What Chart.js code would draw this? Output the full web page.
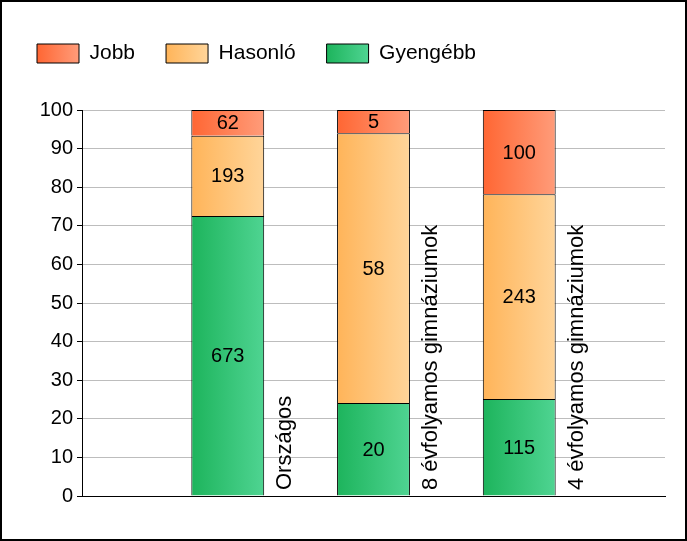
<!DOCTYPE html>
<html>
<head>
<meta charset="utf-8">
<script src="https://cdn.jsdelivr.net/npm/chart.js@4.4.0/dist/chart.umd.min.js"></script>
<style>
  body { margin: 0; background: #fff; }
  #wrap { position: relative; width: 687px; height: 541px; box-sizing: border-box; border: 2px solid #000; background: #fff; }
</style>
</head>
<body>
<div id="wrap"><canvas id="chart"></canvas></div>
<script>
// counts per group, the bars show their share of the total
const categories = ['Országos', '8 évfolyamos gimnáziumok', '4 évfolyamos gimnáziumok'];
const jobb = [62, 5, 100];
const hasonlo = [193, 58, 243];
const gyengebb = [673, 20, 115];
const yMax = 100;
const yStep = 10;

const FONT = '"Liberation Sans", Arial, sans-serif';
Chart.defaults.font.family = FONT;
Chart.defaults.font.size = 20;
Chart.defaults.color = '#000';

const totals = categories.map((c, i) => jobb[i] + hasonlo[i] + gyengebb[i]);
const share = arr => [null, ...arr.map((v, i) => v / totals[i] * 100), null];
const padded = arr => [null, ...arr, null];

const colors = {
  'Gyengébb': ['#1db45c', '#4fd492'],
  'Hasonló': ['#ffb459', '#ffd59a'],
  'Jobb': ['#ff6633', '#ff9c7a']
};

function halfBar(chart) {
  const x = chart.scales.x;
  return (x.getPixelForValue(1) - x.getPixelForValue(0)) / 4;
}

function barGradient(name) {
  return function (context) {
    const chart = context.chart;
    const x = chart.scales.x;
    if (!chart.chartArea || !x) return colors[name][0];
    const half = halfBar(chart);
    const cx = x.getPixelForValue(context.dataIndex);
    const g = chart.ctx.createLinearGradient(cx - half, 0, cx + half, 0);
    g.addColorStop(0, colors[name][0]);
    g.addColorStop(1, colors[name][1]);
    return g;
  };
}

const counts = [padded(gyengebb), padded(hasonlo), padded(jobb)];

// legend boxes get their own gradient, and extra space under the legend
const legendStyle = {
  id: 'legendStyle',
  beforeLayout(chart) {
    const lg = chart.legend;
    if (lg && !lg._patched) {
      const fit = lg.fit;
      lg.fit = function () { fit.call(this); this.height += 36; };
      lg._patched = true;
    }
  },
  beforeDraw(chart) {
    const lg = chart.legend;
    lg.legendItems.forEach((item, i) => {
      const box = lg.legendHitBoxes[i];
      const c = colors[item.text];
      const g = chart.ctx.createLinearGradient(box.left, 0, box.left + 42, 0);
      g.addColorStop(0, c[0]);
      g.addColorStop(1, c[1]);
      item.fillStyle = g;
      item.strokeStyle = '#000';
      item.lineWidth = 1;
    });
  }
};

const barText = {
  id: 'barText',
  afterDatasetsDraw(chart) {
    const ctx = chart.ctx;
    ctx.save();
    ctx.font = '20px ' + FONT;
    ctx.fillStyle = '#000';
    ctx.textAlign = 'center';
    ctx.textBaseline = 'middle';
    chart.data.datasets.forEach((ds, d) => {
      chart.getDatasetMeta(d).data.forEach((bar, i) => {
        if (counts[d][i] == null) return;
        ctx.fillText(String(counts[d][i]), bar.x, (bar.y + bar.base) / 2 + 1);
      });
    });
    const x = chart.scales.x;
    const half = halfBar(chart);
    const bottom = chart.chartArea.bottom;
    ctx.font = '22px ' + FONT;
    ctx.textAlign = 'left';
    ctx.textBaseline = 'alphabetic';
    categories.forEach((name, k) => {
      ctx.save();
      ctx.translate(x.getPixelForValue(k + 1) + half + 27, bottom - 6);
      ctx.rotate(-Math.PI / 2);
      ctx.fillText(name, 0, 0);
      ctx.restore();
    });
    ctx.restore();
  }
};

new Chart(document.getElementById('chart'), {
  type: 'bar',
  data: {
    labels: ['', ...categories, ''],
    datasets: [
      { label: 'Gyengébb', data: share(gyengebb), backgroundColor: barGradient('Gyengébb') },
      { label: 'Hasonló', data: share(hasonlo), backgroundColor: barGradient('Hasonló') },
      { label: 'Jobb', data: share(jobb), backgroundColor: barGradient('Jobb') }
    ]
  },
  options: {
    responsive: true,
    maintainAspectRatio: false,
    animation: false,
    datasets: {
      bar: { borderColor: '#000', borderWidth: 1, categoryPercentage: 1, barPercentage: 0.5 }
    },
    layout: { padding: { left: 4, right: 20, top: 10, bottom: 43 } },
    plugins: {
      legend: {
        position: 'top',
        align: 'start',
        reverse: true,
        labels: { boxWidth: 42, boxHeight: 19, padding: 31, font: { size: 21 } }
      },
      tooltip: { enabled: false }
    },
    scales: {
      x: {
        stacked: true,
        offset: false,
        grid: { display: false },
        ticks: { display: false },
        border: { color: '#000', width: 1 },
        afterFit: s => { s.height = 0; }
      },
      y: {
        stacked: true,
        min: 0,
        max: yMax,
        ticks: { stepSize: yStep, padding: 4, font: { size: 20 } },
        grid: { color: '#bdbdbd', tickColor: '#000', tickLength: 5 },
        border: { color: '#000', width: 1 },
        afterFit: s => { s.width = 76; }
      }
    }
  },
  plugins: [legendStyle, barText]
});
</script>
</body>
</html>
